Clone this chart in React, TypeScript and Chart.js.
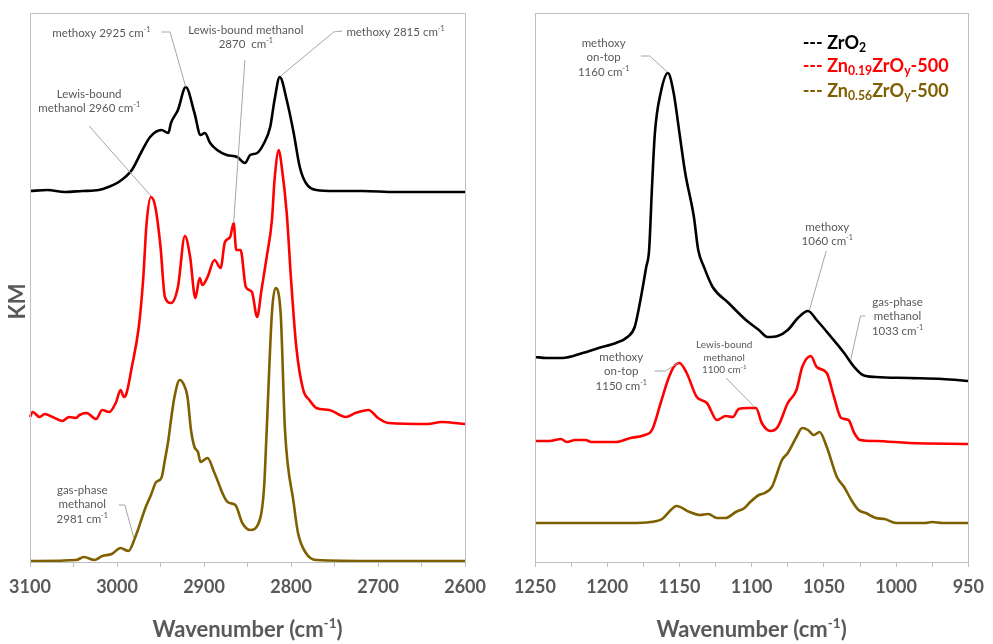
import React, { useEffect, useRef } from "react";
import { Chart, registerables } from "chart.js";

Chart.register(...registerables);

// ---------------- DATA: left panel (C–H stretch region) ----------------
const hiZrO2Wn = [3100, 3080, 3060, 3040, 3021, 3010, 2998, 2983, 2972, 2962, 2949, 2941, 2938, 2930, 2921, 2911, 2904, 2899, 2893, 2885, 2874, 2862, 2853, 2847, 2839, 2831, 2824, 2819, 2813, 2805, 2797, 2790, 2783, 2771, 2750, 2718, 2680, 2640, 2600];
const hiZrO2KM = [3.71, 3.72, 3.70, 3.71, 3.72, 3.75, 3.80, 3.92, 4.10, 4.25, 4.32, 4.29, 4.39, 4.52, 4.75, 4.49, 4.27, 4.29, 4.19, 4.12, 4.07, 4.05, 3.99, 4.07, 4.09, 4.19, 4.35, 4.62, 4.85, 4.62, 4.29, 3.95, 3.79, 3.72, 3.71, 3.71, 3.70, 3.70, 3.70];

const hiZn19Wn = [3100, 3097, 3089, 3083, 3074, 3063, 3055, 3047, 3043, 3035, 3024, 3017, 3009, 3001, 2996, 2992, 2989, 2983, 2975, 2970, 2966, 2961, 2956, 2950, 2945, 2938, 2930, 2922, 2916, 2910, 2905, 2902, 2896, 2888, 2881, 2876, 2870, 2866, 2863, 2858, 2852, 2845, 2839, 2834, 2828, 2822, 2819, 2814, 2811, 2805, 2800, 2794, 2786, 2779, 2771, 2756, 2737, 2726, 2711, 2700, 2688, 2643, 2627, 2600];
const hiZn19KM = [1.45, 1.50, 1.45, 1.48, 1.45, 1.41, 1.45, 1.44, 1.47, 1.49, 1.43, 1.52, 1.50, 1.60, 1.72, 1.65, 1.69, 1.95, 2.35, 2.82, 3.39, 3.65, 3.55, 3.15, 2.65, 2.59, 2.75, 3.26, 3.05, 2.64, 2.84, 2.77, 2.85, 3.02, 2.94, 3.20, 3.25, 3.39, 3.12, 3.12, 2.75, 2.70, 2.45, 2.72, 3.05, 3.42, 3.82, 4.12, 3.97, 3.49, 2.82, 2.15, 1.72, 1.62, 1.54, 1.52, 1.45, 1.49, 1.52, 1.44, 1.39, 1.38, 1.40, 1.38];

const hiZn56Wn = [3100, 3047, 3038, 3026, 3017, 3006, 2996, 2987, 2979, 2967, 2961, 2955, 2949, 2945, 2941, 2938, 2934, 2928, 2923, 2919, 2915, 2911, 2907, 2904, 2896, 2888, 2873, 2864, 2856, 2847, 2836, 2831, 2828, 2822, 2818, 2812, 2807, 2797, 2792, 2783, 2771, 2700, 2600];
const hiZn56KM = [0.01, 0.02, 0.05, 0.02, 0.06, 0.08, 0.14, 0.11, 0.25, 0.55, 0.67, 0.80, 0.84, 1.02, 1.22, 1.42, 1.65, 1.82, 1.77, 1.65, 1.32, 1.15, 1.10, 1.00, 1.04, 0.89, 0.60, 0.57, 0.39, 0.32, 0.42, 0.75, 1.32, 2.49, 2.74, 2.49, 1.32, 0.59, 0.29, 0.09, 0.02, 0.01, 0.01];

// ---------------- DATA: right panel (C–O stretch region) ----------------
const loZrO2Wn = [1250, 1242, 1231, 1217, 1206, 1194, 1186, 1181, 1177, 1173, 1171, 1169, 1167, 1163, 1158, 1154, 1150, 1146, 1140, 1137, 1133, 1127, 1116, 1104, 1095, 1089, 1082, 1075, 1068, 1061, 1055, 1045, 1036, 1029, 1023, 1014, 991, 968, 950];
const loZrO2KM = [2.05, 2.04, 2.04, 2.09, 2.14, 2.19, 2.25, 2.35, 2.62, 2.95, 3.12, 3.75, 4.29, 4.69, 4.89, 4.69, 4.29, 3.89, 3.45, 3.12, 2.95, 2.75, 2.59, 2.42, 2.32, 2.25, 2.26, 2.32, 2.44, 2.51, 2.42, 2.25, 2.09, 1.95, 1.87, 1.85, 1.84, 1.83, 1.81];

const loZn19Wn = [1250, 1240, 1232, 1228, 1222, 1215, 1211, 1194, 1184, 1174, 1169, 1163, 1158, 1154, 1150, 1145, 1138, 1131, 1124, 1118, 1113, 1109, 1102, 1097, 1093, 1087, 1082, 1075, 1069, 1065, 1059, 1055, 1048, 1043, 1038, 1033, 1029, 1025, 1014, 991, 950];
const loZn19KM = [1.21, 1.21, 1.23, 1.20, 1.22, 1.22, 1.20, 1.20, 1.24, 1.27, 1.32, 1.59, 1.82, 1.95, 1.99, 1.89, 1.65, 1.59, 1.42, 1.46, 1.45, 1.53, 1.54, 1.54, 1.39, 1.31, 1.35, 1.59, 1.72, 1.95, 2.06, 1.95, 1.89, 1.65, 1.44, 1.42, 1.29, 1.22, 1.21, 1.19, 1.18];

const loZn56Wn = [1250, 1184, 1170, 1162, 1156, 1152, 1143, 1136, 1130, 1124, 1118, 1111, 1105, 1101, 1095, 1091, 1086, 1084, 1079, 1075, 1069, 1065, 1061, 1057, 1053, 1048, 1041, 1036, 1031, 1026, 1021, 1014, 1008, 1000, 980, 975, 968, 950];
const loZn56KM = [0.39, 0.39, 0.40, 0.43, 0.52, 0.56, 0.50, 0.47, 0.48, 0.44, 0.44, 0.50, 0.54, 0.60, 0.67, 0.69, 0.75, 0.82, 1.02, 1.09, 1.25, 1.34, 1.32, 1.27, 1.30, 1.15, 0.85, 0.75, 0.62, 0.52, 0.49, 0.44, 0.43, 0.39, 0.39, 0.40, 0.39, 0.39];

// series names / colours
const seriesNames = ["ZrO_{2}", "Zn_{0.19}ZrO_{y}-500", "Zn_{0.56}ZrO_{y}-500"];
const seriesColors = ["#000000", "#ff0000", "#7f6000"];

// axis ranges
const hiRange = [2600, 3100];
const loRange = [950, 1250];
const kmRange = [0, 5.49];

// annotations (anchored in data units)
type Note = { lines: string[]; x: number; y: number; lead: [number, number][]; size?: number; gap?: number };
const hiNotes: Note[] = [
  { lines: ["methoxy 2925 cm^{-1}"], x: 3018, y: 5.29, lead: [[2949, 5.30], [2939, 5.30], [2921, 4.75]] },
  { lines: ["Lewis-bound methanol", "2870  cm^{-1}"], x: 2852, y: 5.32, lead: [[2853, 5.02], [2866, 3.39]] },
  { lines: ["methoxy 2815 cm^{-1}"], x: 2680, y: 5.30, lead: [[2741, 5.31], [2751, 5.30], [2812, 4.86]] },
  { lines: ["Lewis-bound", "methanol 2960 cm^{-1}"], x: 3032, y: 4.68, lead: [[3032, 4.36], [2961, 3.66]] },
  { lines: ["gas-phase", "methanol", "2981 cm^{-1}"], x: 3040, y: 0.72, lead: [[2998, 0.57], [2991, 0.57], [2981, 0.25]] },
];
const loNotes: Note[] = [
  { lines: ["methoxy", "on-top", "1160 cm^{-1}"], x: 1202.5, y: 5.19, lead: [[1176.7, 5.06], [1170.6, 5.06], [1158.4, 4.90]] },
  { lines: ["methoxy", "1060 cm^{-1}"], x: 1047.7, y: 3.35, lead: [[1048.4, 3.11], [1060, 2.52]] },
  { lines: ["gas-phase", "methanol", "1033 cm^{-1}"], x: 999, y: 2.60, lead: [[1021.3, 2.46], [1024.7, 2.46], [1031.5, 2.02]] },
  { lines: ["methoxy", "on-top", "1150 cm^{-1}"], x: 1190.3, y: 2.05, lead: [[1167.2, 1.91], [1159.7, 1.91], [1150.9, 1.99]] },
  { lines: ["Lewis-bound", "methanol", "1100 cm^{-1}"], x: 1119, y: 2.17, size: 10, gap: 12.5, lead: [[1117.7, 1.84], [1098, 1.55]] },
];
const legendAnchor = { x: 1064.7, y: [5.19, 4.96, 4.71] };

// ---------------- drawing helpers ----------------
const FONT = "Lato, 'Open Sans', sans-serif";
const GRAY = "#595959";
const LEAD = "#a6a6a6";
const FRAME = "#bfbfbf";

function parseRich(s: string) {
  const out: { t: string; m: number }[] = [];
  let buf = "";
  let i = 0;
  while (i < s.length) {
    const c = s[i];
    if ((c === "^" || c === "_") && s[i + 1] === "{") {
      if (buf) out.push({ t: buf, m: 0 });
      buf = "";
      const end = s.indexOf("}", i);
      out.push({ t: s.slice(i + 2, end), m: c === "^" ? 1 : -1 });
      i = end + 1;
    } else {
      buf += c;
      i++;
    }
  }
  if (buf) out.push({ t: buf, m: 0 });
  return out;
}

function drawRich(ctx: CanvasRenderingContext2D, s: string, x: number, y: number, size: number, weight: string, color: string, align: "center" | "left", subScale = 0.62) {
  const segs = parseRich(s);
  const fontFor = (m: number) => `${weight} ${m ? size * subScale : size}px ${FONT}`;
  const widths = segs.map((sg) => {
    ctx.font = fontFor(sg.m);
    return ctx.measureText(sg.t).width;
  });
  const total = widths.reduce((a, b) => a + b, 0);
  let cx = align === "center" ? x - total / 2 : x;
  ctx.textAlign = "left";
  ctx.textBaseline = "middle";
  ctx.fillStyle = color;
  segs.forEach((sg, k) => {
    ctx.font = fontFor(sg.m);
    const dy = sg.m === 1 ? -size * 0.3 : sg.m === -1 ? size * 0.3 : 0;
    ctx.fillText(sg.t, cx, y + dy);
    cx += widths[k];
  });
}

function makeSeries(wn: number[], km: number[], i: number) {
  return {
    label: seriesNames[i],
    data: wn.map((w, k) => ({ x: w, y: km[k] })),
    borderColor: seriesColors[i],
    backgroundColor: seriesColors[i],
    borderWidth: 2.6,
    pointRadius: 0,
    cubicInterpolationMode: "monotone" as const,
    clip: false as const,
  };
}

type PanelProps = {
  left: number;
  width: number;
  padLeft: number;
  padRight: number;
  range: number[];
  step: number;
  labelStep: number;
  series: { wn: number[]; km: number[] }[];
  notes: Note[];
  legend: boolean;
  km: boolean;
};

function Panel(p: PanelProps) {
  const ref = useRef<HTMLCanvasElement | null>(null);
  useEffect(() => {
    if (!ref.current) return;
    const overlay = {
      id: "overlay",
      afterDatasetsDraw(chart: any) {
        const { ctx, chartArea: a, scales } = chart;
        const xs = scales.x;
        const ys = scales.y;
        ctx.save();
        ctx.strokeStyle = FRAME;
        ctx.lineWidth = 1;
        ctx.strokeRect(Math.round(a.left) + 0.5, Math.round(a.top) + 0.5, Math.round(a.right - a.left), Math.round(a.bottom - a.top));
        for (const n of p.notes) {
          ctx.strokeStyle = LEAD;
          ctx.lineWidth = 1;
          ctx.beginPath();
          n.lead.forEach(([wx, wy], i) => {
            const px = xs.getPixelForValue(wx);
            const py = ys.getPixelForValue(wy);
            if (i) ctx.lineTo(px, py);
            else ctx.moveTo(px, py);
          });
          ctx.stroke();
          const cx = xs.getPixelForValue(n.x);
          const cy = ys.getPixelForValue(n.y);
          n.lines.forEach((ln, i) => drawRich(ctx, ln, cx, cy + i * (n.gap || 14.5), n.size || 11.5, "normal", GRAY, "center"));
        }
        if (p.legend) {
          const lx = xs.getPixelForValue(legendAnchor.x);
          seriesNames.forEach((nm, i) => {
            drawRich(ctx, "--- " + nm, lx, ys.getPixelForValue(legendAnchor.y[i]), 18, "bold", seriesColors[i], "left", 0.68);
          });
        }
        drawRich(ctx, "Wavenumber (cm^{-1})", (a.left + a.right) / 2, chart.height - 14, 22, "bold", GRAY, "center");
        if (p.km) {
          ctx.translate(18, (a.top + a.bottom) / 2 + 14);
          ctx.rotate(-Math.PI / 2);
          drawRich(ctx, "KM", 0, 0, 22, "bold", GRAY, "center");
        }
        ctx.restore();
      },
    };
    const chart = new Chart(ref.current, {
      type: "line",
      data: { datasets: p.series.map((s, i) => makeSeries(s.wn, s.km, i)) as any },
      options: {
        animation: false,
        responsive: false,
        events: [],
        layout: { padding: { left: p.padLeft, right: p.padRight, top: 13, bottom: 0 } },
        plugins: { legend: { display: false }, tooltip: { enabled: false } },
        scales: {
          x: {
            type: "linear",
            min: p.range[0],
            max: p.range[1],
            reverse: true,
            border: { display: false },
            grid: { drawOnChartArea: false, drawTicks: true, tickLength: 5, color: FRAME },
            ticks: {
              stepSize: p.step,
              autoSkip: false,
              maxRotation: 0,
              padding: 9,
              color: GRAY,
              font: { family: FONT, size: 18, weight: "bold" },
              callback: (v: any) => (Number(v) % p.labelStep === 0 ? String(v) : ""),
            },
            afterFit: (s: any) => {
              s.height = 82;
            },
          },
          y: { display: false, min: kmRange[0], max: kmRange[1] },
        },
      },
      plugins: [overlay],
    } as any);
    return () => chart.destroy();
  }, []);
  return <canvas ref={ref} width={p.width} height={644} style={{ position: "absolute", left: p.left, top: 0, width: p.width, height: 644 }} />;
}

export default function App() {
  return (
    <div style={{ position: "fixed", left: 0, top: 0, width: 993, height: 644, background: "#fff" }}>
      <Panel
        left={0}
        width={495}
        padLeft={30}
        padRight={24}
        range={hiRange}
        step={50}
        labelStep={100}
        series={[
          { wn: hiZrO2Wn, km: hiZrO2KM },
          { wn: hiZn19Wn, km: hiZn19KM },
          { wn: hiZn56Wn, km: hiZn56KM },
        ]}
        notes={hiNotes}
        legend={false}
        km={true}
      />
      <Panel
        left={495}
        width={498}
        padLeft={40}
        padRight={16}
        range={loRange}
        step={25}
        labelStep={50}
        series={[
          { wn: loZrO2Wn, km: loZrO2KM },
          { wn: loZn19Wn, km: loZn19KM },
          { wn: loZn56Wn, km: loZn56KM },
        ]}
        notes={loNotes}
        legend={true}
        km={false}
      />
    </div>
  );
}
